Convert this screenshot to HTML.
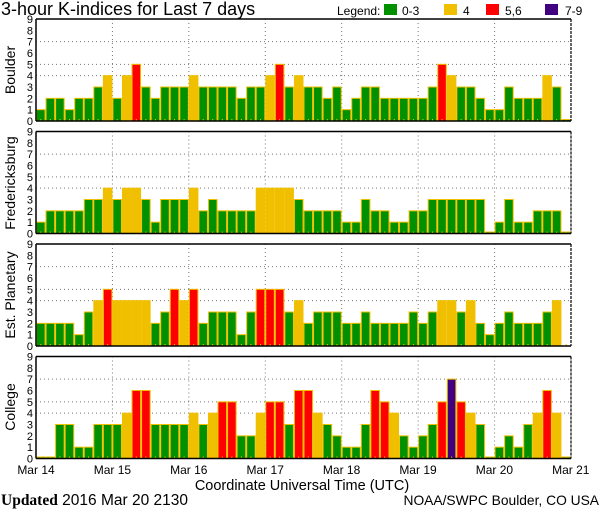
<!DOCTYPE html>
<html><head><meta charset="utf-8"><style>
html,body{margin:0;padding:0;background:#fff;}
svg{display:block;font-family:"Liberation Sans",sans-serif;}
</style></head><body>
<svg id="s" width="600" height="510" viewBox="0 0 600 510" xmlns="http://www.w3.org/2000/svg">
<rect width="600" height="510" fill="#fff"/>
<text x="1" y="15" font-size="18" fill="#000">3-hour K-indices for Last 7 days</text>
<text x="337" y="15" font-size="12" fill="#000">Legend:</text>
<rect x="384" y="4" width="13" height="11" fill="#009000"/><text x="402" y="15" font-size="12">0-3</text>
<rect x="444" y="4" width="13" height="11" fill="#f0c000"/><text x="463" y="15" font-size="12">4</text>
<rect x="486" y="4" width="13" height="11" fill="#ff0000"/><text x="505" y="15" font-size="12">5,6</text>
<rect x="545" y="4" width="13" height="11" fill="#400080"/><text x="565" y="15" font-size="12">7-9</text>
<g id="plots"></g>
<g font-size="11" text-anchor="end" id="ticks"></g>
<text transform="translate(15,70) rotate(-90)" text-anchor="middle" font-size="14">Boulder</text>
<text transform="translate(15,183) rotate(-90)" text-anchor="middle" font-size="14">Fredericksburg</text>
<text transform="translate(15,295) rotate(-90)" text-anchor="middle" font-size="14">Est. Planetary</text>
<text transform="translate(15,407) rotate(-90)" text-anchor="middle" font-size="14">College</text>
<g font-size="12" text-anchor="middle">
<text x="36" y="474">Mar 14</text><text x="112.4" y="474">Mar 15</text><text x="188.8" y="474">Mar 16</text><text x="265.2" y="474">Mar 17</text><text x="341.6" y="474">Mar 18</text><text x="418" y="474">Mar 19</text><text x="494.4" y="474">Mar 20</text><text x="570.8" y="474">Mar 21</text>
</g>
<text x="302" y="490" font-size="14.5" text-anchor="middle">Coordinate Universal Time (UTC)</text>
<text x="1" y="505" font-size="15.5"><tspan font-family="Liberation Serif" font-weight="bold">Updated</tspan> 2016 Mar 20 2130</text>
<text x="599" y="505" font-size="13.8" text-anchor="end">NOAA/SWPC Boulder, CO USA</text>
</svg>
<script>
var data=[
[1,2,2,1,2,2,3,4, 2,4,5,3,2,3,3,3, 4,3,3,3,3,2,3,3, 4,5,3,4,3,3,2,3, 1,2,3,3,2,2,2,2, 2,3,5,4,3,3,2,1, 1,3,2,2,2,4,3,0],
[1,2,2,2,2,3,3,4, 3,4,4,3,1,3,3,3, 4,2,3,2,2,2,2,4, 4,4,4,3,2,2,2,2, 1,1,3,2,2,1,1,2, 2,3,3,3,3,3,3,0, 1,3,1,1,2,2,2,0],
[2,2,2,2,1,3,4,5, 4,4,4,4,2,3,5,4, 5,2,3,3,3,1,3,5, 5,5,3,4,2,3,3,3, 2,2,3,2,2,2,2,3, 2,3,4,4,3,4,2,1, 2,3,2,2,2,3,4,-1],
[0,0,3,3,1,1,3,3, 3,4,6,6,3,3,3,3, 4,3,4,5,5,2,2,4, 5,5,3,6,6,4,3,2, 1,1,3,6,5,4,2,1, 2,3,5,7,5,4,3,0, 1,2,1,3,4,6,4,0]];
var T=[19,131.5,244,356.5],H=102,U=H/9,X0=36,X1=571,BW=(X1-X0)/56;
var ns="http://www.w3.org/2000/svg",g=document.getElementById("plots"),tk=document.getElementById("ticks");
function el(n,a,p){var e=document.createElementNS(ns,n);for(var k in a)e.setAttribute(k,a[k]);(p||g).appendChild(e);return e;}
function col(v){return v<=3?"#009000":v==4?"#f0c000":v<=6?"#ff0000":"#400080";}
for(var p=0;p<4;p++){var t=T[p],b=t+H;
 [4,5,7].forEach(function(v){el("line",{x1:X0,x2:X1,y1:b-v*U,y2:b-v*U,stroke:"#777","stroke-dasharray":"1,3"});});
 for(var d=1;d<7;d++){var x=X0+d*8*BW;el("line",{x1:x,x2:x,y1:t,y2:b,stroke:"#777","stroke-dasharray":"1,3"});}
 for(var i=0;i<56;i++){var v=data[p][i];var x=X0+i*BW;
  if(v>=0){var h=Math.max(v*U,1.5);el("rect",{x:x+0.5,y:b-h,width:BW-1,height:h,fill:col(v),stroke:"#f0c000","stroke-width":1});}
  el("line",{x1:x+BW/2,x2:x+BW/2,y1:b-2,y2:b,stroke:"#f0c000"});}
 el("line",{x1:X0,x2:X1,y1:t,y2:t,stroke:"#000","stroke-width":1.5});
 el("line",{x1:X0,x2:X1,y1:b,y2:b,stroke:"#000","stroke-width":1.5});
 el("line",{x1:X0,x2:X0,y1:t,y2:b,stroke:"#000","stroke-width":1.5});
 el("line",{x1:X1,x2:X1,y1:t,y2:b,stroke:"#000","stroke-width":1.2,"stroke-dasharray":"3,1"});
 for(var v=0;v<=9;v++){var e=el("text",{x:33,y:b-v*U+4},tk);e.textContent=v;}
}
</script>
</body></html>
